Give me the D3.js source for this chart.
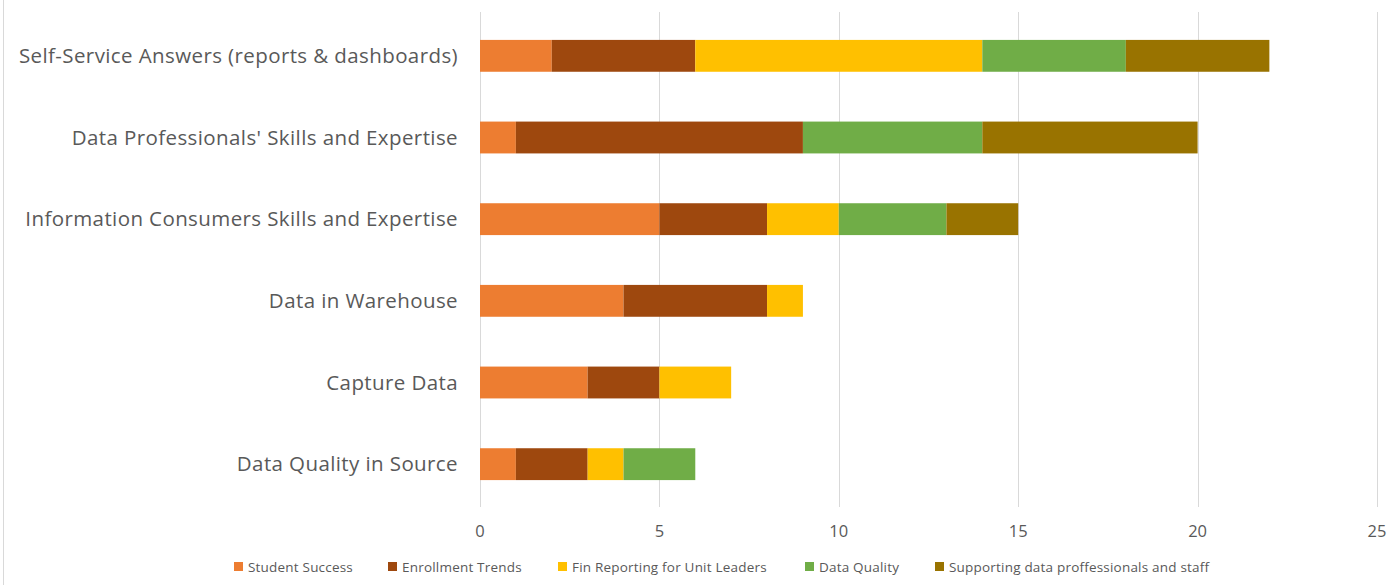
<!DOCTYPE html>
<html>
<head>
<meta charset="utf-8">
<script src="https://cdn.jsdelivr.net/npm/d3@7"></script>
<style>
    body { margin: 0; background: #fff; }
    svg { display: block; font-family: "Open Sans", "Noto Sans", sans-serif; }
</style>
</head>
<body>
<svg id="chart"></svg>
<script>
// categories top to bottom
const categories = [
    'Self-Service Answers (reports & dashboards)',
    "Data Professionals' Skills and Expertise",
    'Information Consumers Skills and Expertise',
    'Data in Warehouse',
    'Capture Data',
    'Data Quality in Source',
];
const seriesNames = [
    'Student Success',
    'Enrollment Trends',
    'Fin Reporting for Unit Leaders',
    'Data Quality',
    'Supporting data proffessionals and staff',
];
const studentSuccess = [2, 1, 5, 4, 3, 1];
const enrollmentTrends = [4, 8, 3, 4, 2, 2];
const finReporting = [8, 0, 2, 1, 2, 1];
const dataQuality = [4, 5, 3, 0, 0, 2];
const supporting = [4, 6, 2, 0, 0, 0];
const xTicks = [0, 5, 10, 15, 20, 25];
const colors = ['#ED7D31', '#9E480E', '#FFC000', '#70AD47', '#997300'];

const width = 1399;
const height = 585;
const svg = d3.select('#chart').attr('width', width).attr('height', height);

const rows = categories.map((c, i) => ({
    category: c,
    [seriesNames[0]]: studentSuccess[i],
    [seriesNames[1]]: enrollmentTrends[i],
    [seriesNames[2]]: finReporting[i],
    [seriesNames[3]]: dataQuality[i],
    [seriesNames[4]]: supporting[i],
}));
const stacked = d3.stack().keys(seriesNames)(rows);

const x = d3.scaleLinear().domain([0, 25]).range([480, 1377]);
const y = d3.scaleBand().domain(categories).range([15, 505]).paddingInner(0.61).paddingOuter(0.305);
const color = d3.scaleOrdinal().domain(seriesNames).range(colors);

// left frame edge
svg.append('line')
    .attr('x1', 3.5).attr('x2', 3.5).attr('y1', 0).attr('y2', height)
    .attr('stroke', '#d9d9d9');

// gridlines
svg.append('g')
    .selectAll('line')
    .data(xTicks)
    .join('line')
    .attr('x1', (d) => Math.round(x(d)) + 0.5)
    .attr('x2', (d) => Math.round(x(d)) + 0.5)
    .attr('y1', 12)
    .attr('y2', 507)
    .attr('stroke', '#d9d9d9')
    .attr('stroke-width', 1);

// bars
svg.append('g')
    .selectAll('g')
    .data(stacked)
    .join('g')
    .attr('fill', (d) => color(d.key))
    .selectAll('rect')
    .data((d) => d)
    .join('rect')
    .attr('x', (d) => x(d[0]))
    .attr('y', (d) => y(d.data.category))
    .attr('width', (d) => x(d[1]) - x(d[0]))
    .attr('height', y.bandwidth());

// category labels
svg.append('g')
    .selectAll('text')
    .data(categories)
    .join('text')
    .attr('x', 458)
    .attr('y', (d) => y(d) + y.bandwidth() / 2)
    .attr('dy', '0.35em')
    .attr('text-anchor', 'end')
    .attr('fill', '#595959')
    .attr('font-size', 20.5)
    .attr('letter-spacing', 0.4)
    .text((d) => d);

// x tick labels
svg.append('g')
    .selectAll('text')
    .data(xTicks)
    .join('text')
    .attr('x', (d) => x(d))
    .attr('y', 531)
    .attr('dy', '0.35em')
    .attr('text-anchor', 'middle')
    .attr('fill', '#595959')
    .attr('font-size', 16.5)
    .text((d) => d);

// legend
const legendX = [234, 388, 558, 805, 935];
const legend = svg.append('g')
    .selectAll('g')
    .data(seriesNames)
    .join('g')
    .attr('transform', (d, i) => `translate(${legendX[i]},567)`);
legend.append('rect')
    .attr('x', 0).attr('y', -5)
    .attr('width', 9).attr('height', 9)
    .attr('fill', (d) => color(d));
legend.append('text')
    .attr('x', 14)
    .attr('dy', '0.35em')
    .attr('fill', '#595959')
    .attr('font-size', 13.5)
    .attr('letter-spacing', 0.2)
    .text((d) => d);
</script>
</body>
</html>
